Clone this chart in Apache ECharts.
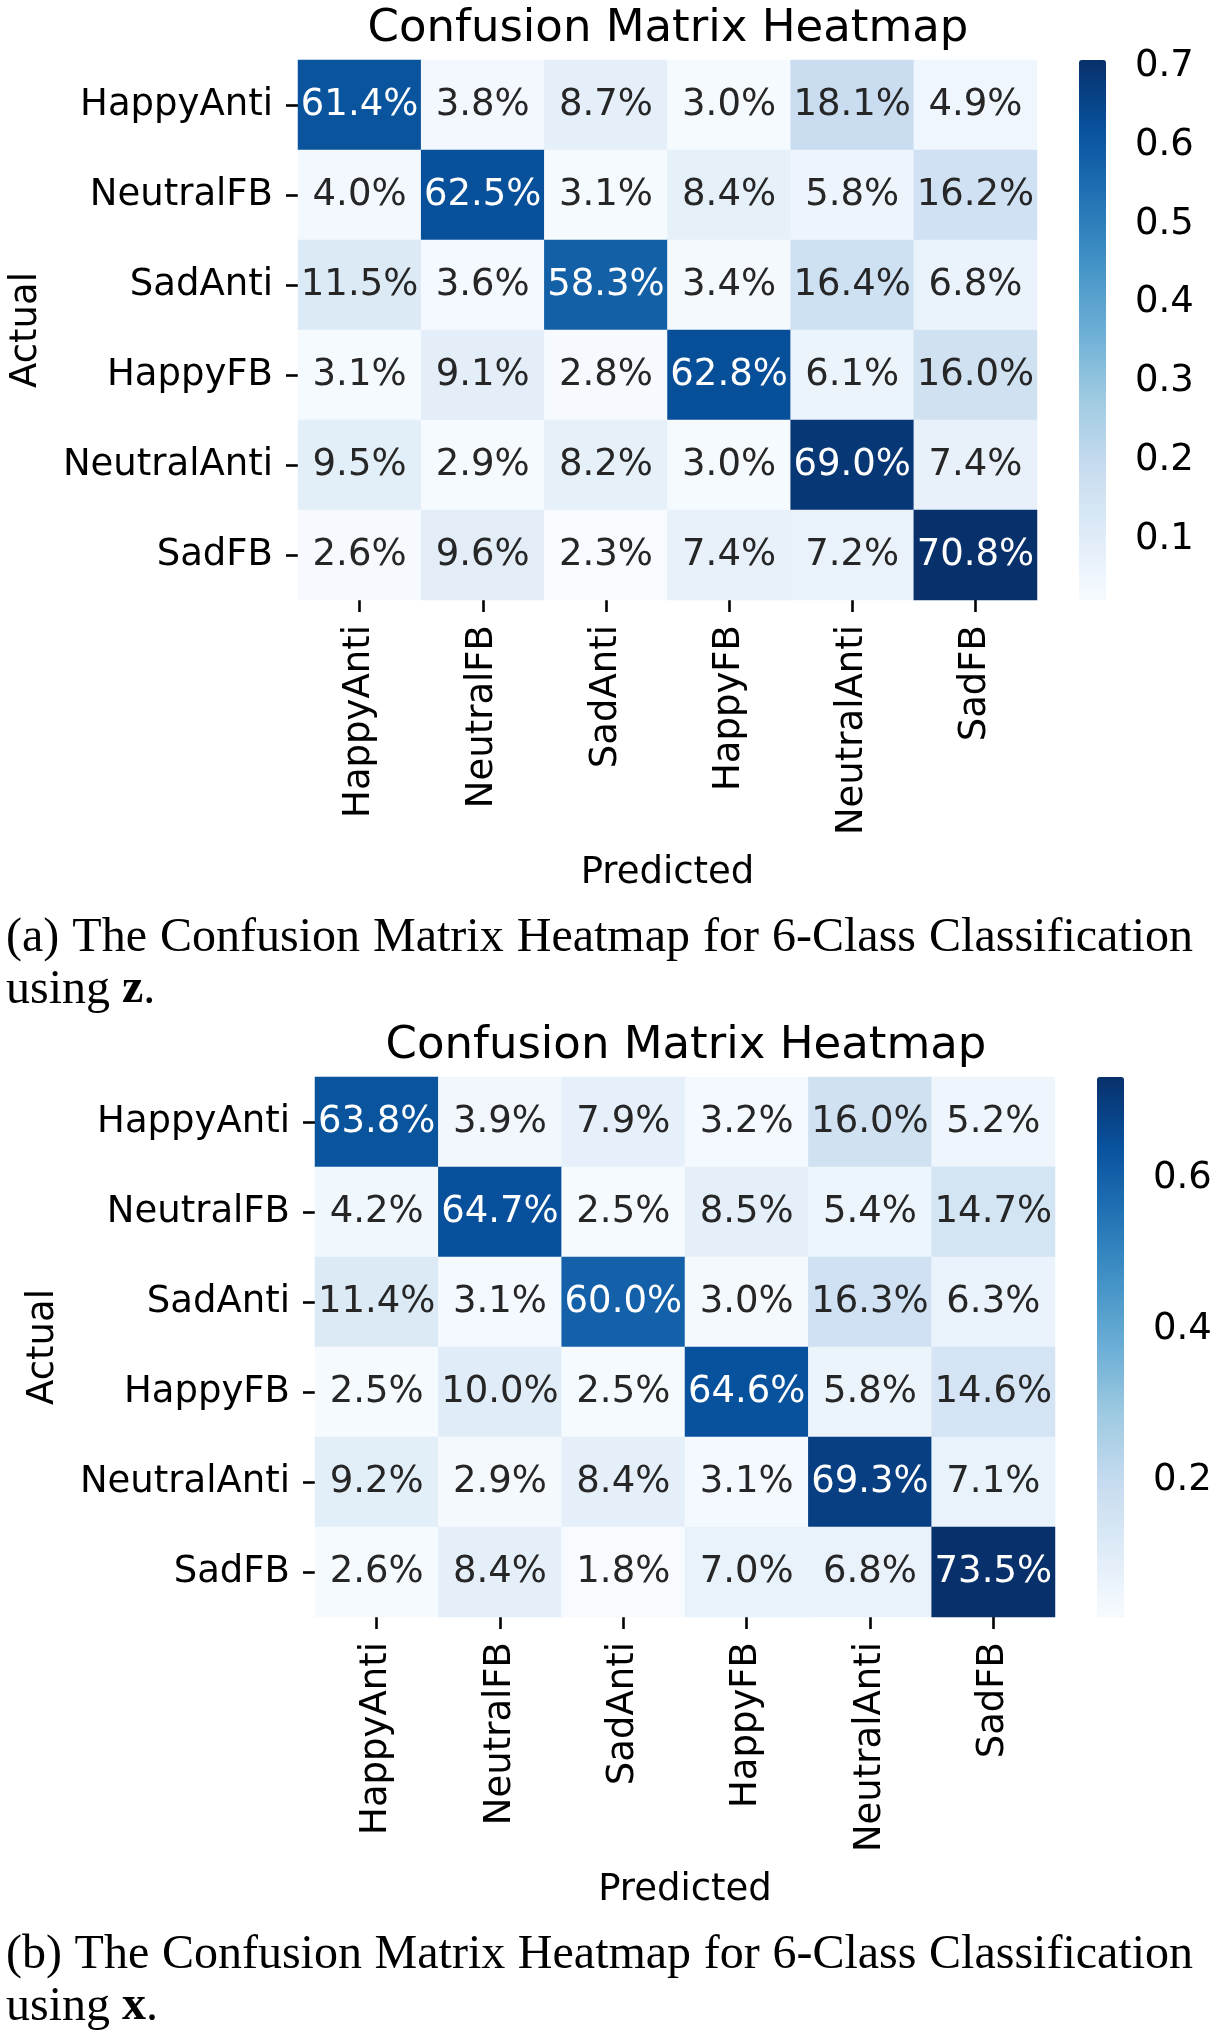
<!DOCTYPE html>
<html>
<head>
<meta charset="utf-8">
<script src="https://cdn.jsdelivr.net/npm/echarts@6/dist/echarts.min.js"></script>
<style>
html,body{margin:0;padding:0;background:#fff;}
#chart{width:1216px;height:2040px;}
</style>
</head>
<body>
<div id="chart"></div>
<script>
// ---------------- data ----------------
const categories = ['HappyAnti', 'NeutralFB', 'SadAnti', 'HappyFB', 'NeutralAnti', 'SadFB'];
// rows = Actual, cols = Predicted, values in percent
const matrixZ = [
  [61.4, 3.8, 8.7, 3.0, 18.1, 4.9],
  [4.0, 62.5, 3.1, 8.4, 5.8, 16.2],
  [11.5, 3.6, 58.3, 3.4, 16.4, 6.8],
  [3.1, 9.1, 2.8, 62.8, 6.1, 16.0],
  [9.5, 2.9, 8.2, 3.0, 69.0, 7.4],
  [2.6, 9.6, 2.3, 7.4, 7.2, 70.8]
];
const matrixX = [
  [63.8, 3.9, 7.9, 3.2, 16.0, 5.2],
  [4.2, 64.7, 2.5, 8.5, 5.4, 14.7],
  [11.4, 3.1, 60.0, 3.0, 16.3, 6.3],
  [2.5, 10.0, 2.5, 64.6, 5.8, 14.6],
  [9.2, 2.9, 8.4, 3.1, 69.3, 7.1],
  [2.6, 8.4, 1.8, 7.0, 6.8, 73.5]
];
const colorbarTicksZ = [0.1, 0.2, 0.3, 0.4, 0.5, 0.6, 0.7];
const colorbarTicksX = [0.2, 0.4, 0.6];
const chartTitle = 'Confusion Matrix Heatmap';
const xName = 'Predicted';
const yName = 'Actual';
const captionA = { line1: '(a) The Confusion Matrix Heatmap for 6-Class Classification', pre: 'using ', bold: 'z', post: '.' };
const captionB = { line1: '(b) The Confusion Matrix Heatmap for 6-Class Classification', pre: 'using ', bold: 'x', post: '.' };

// ---------------- style / layout ----------------
const FONT = 'DejaVu Sans';
const SERIF = 'Liberation Serif';
const blues = ['#f7fbff', '#deebf7', '#c6dbef', '#9ecae1', '#6baed6', '#4292c6', '#2171b5', '#08519c', '#08306b'];
const panels = [
  { m: matrixZ, ticks: colorbarTicksZ, gx: 297, gy: 60, cbx: 1079, cap: captionA, capY: 938 },
  { m: matrixX, ticks: colorbarTicksX, gx: 315, gy: 1077, cbx: 1097, cap: captionB, capY: 1955 }
];
const GW = 740, GH = 540, CBW = 27;
const FS = 37;
const axisTxt = { fontFamily: FONT, fontSize: FS, color: '#000' };
const tickStyle = { color: '#000', width: 2.6 };

const chart = echarts.init(document.getElementById('chart'), null, { renderer: 'canvas' });

const grid = [], xAxis = [], yAxis = [], series = [], visualMap = [], title = [], graphic = [];

// measuring for justified captions
const ctx = document.createElement('canvas').getContext('2d');
const CAP_FS = 48;
ctx.font = CAP_FS + 'px "' + SERIF + '"';

panels.forEach((p, i) => {
  const flat = p.m.flat().map(v => v / 100);
  const vmin = Math.min(...flat), vmax = Math.max(...flat);
  const data = [];
  p.m.forEach((row, r) => row.forEach((v, c) => {
    const f = v / 100;
    data.push({ value: [c, r, f], label: { color: f > 0.45 ? '#ffffff' : '#262626' } });
  }));

  // heatmap grid
  grid.push({ left: p.gx, top: p.gy, width: GW, height: GH, containLabel: false });
  xAxis.push({
    type: 'category', gridIndex: 2 * i, data: categories, position: 'bottom',
    axisLine: { show: false }, splitLine: { show: false },
    axisTick: { show: true, alignWithLabel: true, length: 12, lineStyle: tickStyle },
    axisLabel: Object.assign({ rotate: 90, margin: 25, interval: 0 }, axisTxt),
    name: xName, nameLocation: 'middle', nameGap: 255, nameTextStyle: axisTxt
  });
  yAxis.push({
    type: 'category', gridIndex: 2 * i, data: categories, inverse: true,
    axisLine: { show: false }, splitLine: { show: false },
    axisTick: { show: true, alignWithLabel: true, length: 12, lineStyle: tickStyle },
    axisLabel: Object.assign({ margin: 25, interval: 0 }, axisTxt),
    name: yName, nameLocation: 'middle', nameGap: 253, nameTextStyle: axisTxt
  });
  series.push({
    type: 'heatmap', xAxisIndex: 2 * i, yAxisIndex: 2 * i, data: data,
    label: { show: true, fontFamily: FONT, fontSize: FS, formatter: prm => (prm.value[2] * 100).toFixed(1) + '%' },
    itemStyle: { borderWidth: 0 },
    emphasis: { disabled: true }
  });
  visualMap.push({
    type: 'continuous', seriesIndex: i, min: vmin, max: vmax, orient: 'vertical',
    left: p.cbx, top: p.gy, itemWidth: CBW, itemHeight: GH, padding: 0,
    calculable: false, hoverLink: false, text: null, showLabel: false,
    inRange: { color: blues }
  });
  // colorbar axis grid
  grid.push({ left: p.cbx, top: p.gy, width: CBW, height: GH, containLabel: false });
  xAxis.push({ type: 'value', gridIndex: 2 * i + 1, show: false, min: 0, max: 1 });
  yAxis.push({
    type: 'value', gridIndex: 2 * i + 1, position: 'right', min: vmin, max: vmax,
    axisLine: { show: false }, splitLine: { show: false },
    axisTick: { show: true, length: 12, lineStyle: tickStyle, customValues: p.ticks },
    axisLabel: Object.assign({ margin: 29, customValues: p.ticks, formatter: v => v.toFixed(1) }, axisTxt)
  });

  title.push({
    text: chartTitle, left: p.gx + GW / 2 + 1, top: p.gy - 53, textAlign: 'center', padding: 0,
    textStyle: { fontFamily: FONT, fontSize: 45, fontWeight: 'normal', color: '#000' }
  });

  // caption line 1 justified
  const words = p.cap.line1.split(' ');
  const widths = words.map(w => ctx.measureText(w).width);
  const L = 6, R = 1193;
  const gap = (R - L - widths.reduce((a, b) => a + b, 0)) / (words.length - 1);
  let x = L;
  words.forEach((w, k) => {
    graphic.push({ type: 'text', x: x, y: p.capY, style: { text: w, fontFamily: SERIF, fontSize: CAP_FS, fill: '#000', verticalAlign: 'middle', align: 'left' } });
    x += widths[k] + gap;
  });
  graphic.push({
    type: 'text', x: L, y: p.capY + 52,
    style: {
      text: '{n|' + p.cap.pre + '}{b|' + p.cap.bold + '}{n|' + p.cap.post + '}',
      verticalAlign: 'middle', align: 'left',
      rich: {
        n: { fontFamily: SERIF, fontSize: CAP_FS, fill: '#000', color: '#000' },
        b: { fontFamily: SERIF, fontSize: CAP_FS, fontWeight: 'bold', fill: '#000', color: '#000' }
      }
    }
  });
});

chart.setOption({
  backgroundColor: '#ffffff',
  animation: false,
  title, grid, xAxis, yAxis, series, visualMap, graphic
});
</script>
</body>
</html>
